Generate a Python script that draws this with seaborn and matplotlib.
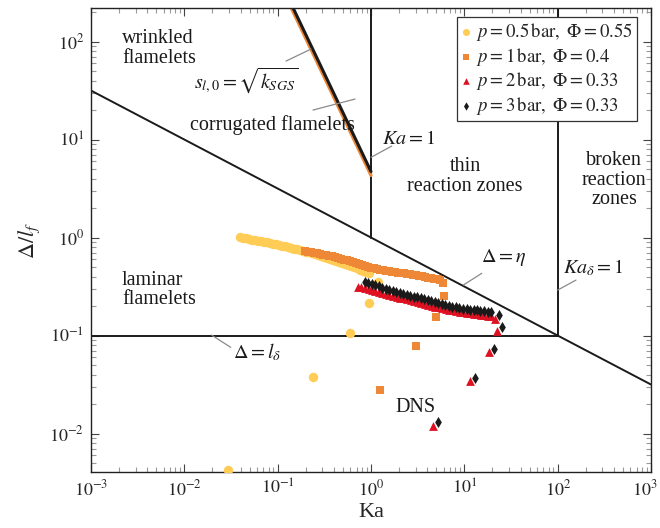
import numpy as np
import matplotlib
matplotlib.use("Agg")
import matplotlib.pyplot as plt
import matplotlib.transforms as mtransforms
from matplotlib.ticker import FixedLocator, LogLocator, NullFormatter
import seaborn as sns

# ---- filtered flame data: Karlovitz number vs. normalised filter width ----
yellow_ka = [0.0395, 0.0425, 0.0458, 0.0493, 0.0531, 0.0572, 0.0616, 0.0663, 0.0714, 0.0769,
             0.0828, 0.0892, 0.0960, 0.1034, 0.1113, 0.1199, 0.1291, 0.1390, 0.1497, 0.1612,
             0.1736, 0.1869, 0.2013, 0.2167, 0.2334, 0.2513, 0.2706, 0.2914, 0.3138, 0.3379,
             0.3638, 0.3918, 0.4219, 0.4543, 0.4892, 0.5267, 0.5672, 0.6107, 0.6576, 0.7081,
             0.7625, 0.8211, 0.8841, 0.9520,
             1.19, 0.952, 0.596, 0.239, 0.0294]
yellow_d = [1.012, 1.000, 0.988, 0.970, 0.954, 0.943, 0.932, 0.917, 0.904, 0.893,
            0.879, 0.869, 0.858, 0.842, 0.829, 0.813, 0.800, 0.785, 0.772, 0.760,
            0.746, 0.732, 0.720, 0.706, 0.695, 0.679, 0.663, 0.651, 0.637, 0.625,
            0.610, 0.596, 0.582, 0.569, 0.556, 0.543, 0.528, 0.512, 0.500, 0.486,
            0.471, 0.458, 0.445, 0.430,
            0.351, 0.215, 0.106, 0.0378, 0.00425]

orange_ka = [0.1963, 0.2114, 0.2276, 0.2451, 0.2639, 0.2842, 0.3060, 0.3295, 0.3548, 0.3820,
             0.4114, 0.4430, 0.4770, 0.5136, 0.5531, 0.5955, 0.6413, 0.6905, 0.7435, 0.8006,
             0.8621, 0.9283, 0.9996, 1.076, 1.159, 1.248, 1.344, 1.447, 1.558, 1.678,
             1.807, 1.945, 2.095, 2.255, 2.429, 2.615, 2.816, 3.032, 3.265, 3.516,
             3.786, 4.076, 4.389, 4.726, 5.089, 5.480,
             5.91, 6.06, 4.97, 3.03, 1.25]
orange_d = [0.728, 0.718, 0.708, 0.698, 0.688, 0.679, 0.669, 0.660, 0.651, 0.641,
            0.632, 0.621, 0.609, 0.596, 0.585, 0.573, 0.562, 0.549, 0.539, 0.526,
            0.516, 0.505, 0.494, 0.484, 0.475, 0.466, 0.461, 0.455, 0.451, 0.447,
            0.442, 0.438, 0.434, 0.430, 0.426, 0.421, 0.416, 0.411, 0.407, 0.402,
            0.396, 0.391, 0.385, 0.380, 0.375, 0.368,
            0.343, 0.256, 0.1544, 0.0781, 0.0278]

red_ka = [0.7256, 0.7910, 0.8624, 0.9402, 1.025, 1.117, 1.218, 1.328, 1.448, 1.578,
          1.721, 1.876, 2.045, 2.230, 2.431, 2.650, 2.889, 3.150, 3.434, 3.743,
          4.081, 4.449, 4.850, 5.288, 5.765, 6.285, 6.852, 7.470, 8.143, 8.878,
          9.678, 10.55, 11.50, 12.54, 13.67, 14.91, 16.25, 17.72, 19.31,
          21.3, 22.4, 18.4, 11.5, 4.62]
red_d = [0.3162, 0.3096, 0.3031, 0.2961, 0.2892, 0.2831, 0.2772, 0.2714, 0.2651, 0.2596,
         0.2541, 0.2488, 0.2442, 0.2391, 0.2341, 0.2292, 0.2244, 0.2197, 0.2151, 0.2106,
         0.2062, 0.2018, 0.1976, 0.1940, 0.1904, 0.1868, 0.1833, 0.1804, 0.1778, 0.1754,
         0.1729, 0.1704, 0.1680, 0.1661, 0.1641, 0.1622, 0.1607, 0.1592, 0.1578,
         0.1474, 0.111, 0.0679, 0.0343, 0.0119]

black_ka = [0.862, 0.940, 1.025, 1.117, 1.218, 1.328, 1.447, 1.578, 1.720, 1.875,
            2.044, 2.229, 2.430, 2.649, 2.888, 3.148, 3.432, 3.742, 4.079, 4.447,
            4.848, 5.286, 5.762, 6.282, 6.849, 7.467, 8.140, 8.874, 9.675, 10.55,
            11.50, 12.54, 13.67, 14.90, 16.24, 17.71, 19.31,
            23.5, 25.3, 20.8, 13.0, 5.22]
black_d = [0.3515, 0.344, 0.335, 0.3275, 0.318, 0.309, 0.302, 0.2947, 0.2858, 0.2779,
           0.2721, 0.2664, 0.2602, 0.2553, 0.250, 0.2453, 0.2402, 0.2346, 0.2287, 0.2234,
           0.2177, 0.2126, 0.2076, 0.2038, 0.200, 0.1967, 0.1940, 0.1912, 0.1886, 0.1864,
           0.1842, 0.1821, 0.1804, 0.1786, 0.1770, 0.1754, 0.1737,
           0.1637, 0.122, 0.0728, 0.0368, 0.0131]

series_labels = [r"$p = 0.5\,\mathrm{bar},\ \Phi = 0.55$",
                 r"$p = 1\,\mathrm{bar},\ \Phi = 0.4$",
                 r"$p = 2\,\mathrm{bar},\ \Phi = 0.33$",
                 r"$p = 3\,\mathrm{bar},\ \Phi = 0.33$"]

x_ticks = [1e-3, 1e-2, 1e-1, 1e0, 1e1, 1e2, 1e3]
x_tick_labels = [r"$10^{-3}$", r"$10^{-2}$", r"$10^{-1}$", r"$10^{0}$",
                 r"$10^{1}$", r"$10^{2}$", r"$10^{3}$"]
y_ticks = [1e-2, 1e-1, 1e0, 1e1, 1e2]
y_tick_labels = [r"$10^{-2}$", r"$10^{-1}$", r"$10^{0}$", r"$10^{1}$", r"$10^{2}$"]

# regime boundaries
sl_const_black = 4.72   # s_l,0 = sqrt(k_SGS) line: Delta/l_f = C * Ka^-2
sl_const_orange = 4.30

C_YELLOW = "#FFCC55"
C_ORANGE = "#EE8836"
C_RED = "#DD1122"
C_BLACK = "#1a1a1a"
C_GRAY = "#8a8a8a"

sns.set_style("ticks")
plt.rcParams.update({
    "font.family": ["Liberation Serif", "DejaVu Serif"],
    "mathtext.fontset": "stix",
    "axes.linewidth": 1.0,
    "axes.edgecolor": "#222222",
})

fig = plt.figure(figsize=(6.6, 5.28), dpi=100)
ax = fig.add_axes([91 / 660, 1 - 472 / 528, 560 / 660, 464 / 528])
ax.set_xscale("log")
ax.set_yscale("log")
ax.set_xlim(1e-3, 1e3)
ax.set_ylim(4.05e-3, 220)

lw_b = 1.4
ka_full = np.array([1e-3, 1e3])
ax.plot(ka_full, ka_full ** -0.5, color=C_BLACK, lw=lw_b, zorder=2)          # Delta = eta
ax.plot([1e-3, 100], [0.1, 0.1], color=C_BLACK, lw=lw_b, zorder=2)           # Delta = l_delta
ax.plot([1, 1], [1, 1e3], color=C_BLACK, lw=lw_b, zorder=2)                  # Ka = 1
ax.plot([100, 100], [0.1, 1e3], color=C_BLACK, lw=lw_b, zorder=2)            # Ka_delta = 1
ka_sl = np.geomspace(0.1, 1.0, 30)
ax.plot(ka_sl, sl_const_orange * ka_sl ** -2, color=C_ORANGE, lw=2.3, zorder=2)
ax.plot(ka_sl, sl_const_black * ka_sl ** -2, color=C_BLACK, lw=2.2, zorder=2)

# leader lines for the annotations
leaders = [
    ([0.1229, 0.2276], [63.2, 83.8]),
    ([0.239, 0.674], [20.0, 25.9]),
    ([1.0, 1.667], [6.58, 8.58]),
    ([9.75, 15.35], [0.3275, 0.431]),
    ([100, 157], [0.291, 0.368]),
    ([0.01963, 0.0314], [0.101, 0.0758]),
]
for lx, ly in leaders:
    ax.plot(lx, ly, color=C_GRAY, lw=0.9, zorder=2)

# data series
specs = [
    (yellow_ka, yellow_d, "o", C_YELLOW, 46),
    (orange_ka, orange_d, "s", C_ORANGE, 40),
    (red_ka, red_d, "^", C_RED, 40),
    (black_ka, black_d, "d", C_BLACK, 32),
]
for (ka, d, m, c, s), lab in zip(specs, series_labels):
    sns.scatterplot(x=ka, y=d, marker=m, color=c, s=s, linewidth=0,
                    label=lab, ax=ax, zorder=3)

# regime labels
fs = 14.5
tkw = dict(fontsize=fs, color="#1a1a1a", linespacing=1.05, zorder=4)
ax.text(0.00215, 84.8, "wrinkled\nflamelets", ha="left", va="center", **tkw)
ax.text(0.0463, 40.5, r"$s_{l,0} = \sqrt{k_{SGS}}$", ha="center", va="center", **tkw)
ax.text(0.0869, 14.06, "corrugated flamelets", ha="center", va="center", **tkw)
ax.text(2.55, 10.1, r"$Ka = 1$", ha="center", va="center", **tkw)
ax.text(10.2, 4.19, "thin\nreaction zones", ha="center", va="center", **tkw)
ax.text(401, 3.86, "broken\nreaction\nzones", ha="center", va="center", **tkw)
ax.text(26, 0.632, r"$\Delta = \eta$", ha="center", va="center", **tkw)
ax.text(239, 0.489, r"$Ka_{\delta} = 1$", ha="center", va="center", **tkw)
ax.text(0.00215, 0.291, "laminar\nflamelets", ha="left", va="center", **tkw)
ax.text(0.060, 0.0679, r"$\Delta = l_{\delta}$", ha="center", va="center", **tkw)
ax.text(3.03, 0.01864, "DNS", ha="center", va="center", **tkw)

ax.set_xlabel("Ka", fontsize=16, labelpad=3)
ax.set_ylabel(r"$\Delta / l_f$", fontsize=16, labelpad=5)

# fixed decade ticks with minor ticks in between
ax.xaxis.set_major_locator(FixedLocator(x_ticks))
ax.yaxis.set_major_locator(FixedLocator(y_ticks))
ax.set_xticklabels(x_tick_labels)
ax.set_yticklabels(y_tick_labels)
for axis in (ax.xaxis, ax.yaxis):
    axis.set_minor_locator(LogLocator(base=10, subs=np.arange(2, 10), numticks=20))
    axis.set_minor_formatter(NullFormatter())

ax.tick_params(which="both", direction="in", top=True, right=True, labelsize=13)
ax.tick_params(which="major", length=6, width=0.8, color="#444444", pad=5)
ax.tick_params(which="minor", length=3.5, width=0.8, color="#9a9a9a")

# keep the last x tick label inside the canvas
fig.canvas.draw()
for tick in ax.xaxis.get_major_ticks():
    if np.isclose(tick.get_loc(), 1e3):
        lab = tick.label1
        lab.set_horizontalalignment("right")
        lab.set_transform(lab.get_transform()
                          + mtransforms.ScaledTranslation(7 / 100, 0, fig.dpi_scale_trans))

leg = ax.legend(loc="upper right",
                bbox_to_anchor=((637 - 91) / 560, 1 - (17 - 8) / 464),
                frameon=True, fancybox=False, edgecolor="#333333", framealpha=1,
                fontsize=13.5, handlelength=0.6, handletextpad=0.25,
                labelspacing=0.15, borderpad=0.2, markerscale=0.75,
                borderaxespad=0)
leg.get_frame().set_linewidth(0.9)

fig.savefig("out.png", dpi=100)
